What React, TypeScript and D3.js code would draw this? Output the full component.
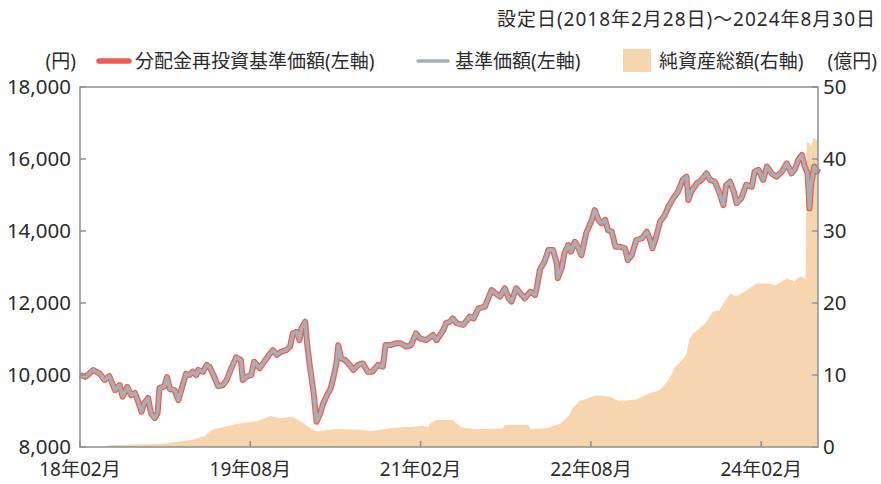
import * as d3 from "d3";
import React, { RefObject, useEffect, useRef } from "react";

// months elapsed since launch (2018-02-28) and NAV in yen
const navMonths = [
  0, 0.6, 1.4, 2.1, 2.6, 3.1, 3.7, 4.2, 4.5, 5.0, 5.4, 5.8, 6.1, 6.5, 6.8, 7.2, 7.5, 7.9, 8.2, 8.4,
  8.9, 9.2, 9.5, 10.0, 10.4, 10.7, 11.2, 11.6, 11.9, 12.3, 12.5, 13.0, 13.4, 13.7, 14.1, 14.6, 15.1,
  15.5, 16.0, 16.5, 17.0, 17.2, 17.6, 18.1, 18.4, 19.0, 19.6, 20.1, 20.4, 20.8, 21.3, 21.8, 22.2,
  22.5, 22.9, 23.2, 23.4, 23.8, 24.0, 24.3, 24.7, 25.0, 25.4, 25.7, 26.1, 26.5, 26.8, 27.1, 27.3,
  27.6, 28.0, 28.5, 28.9, 29.4, 29.9, 30.4, 30.9, 31.5, 32.0, 32.3, 32.8, 33.4, 33.9, 34.5, 35.0,
  35.5, 35.9, 36.6, 37.3, 37.7, 38.4, 38.7, 39.1, 39.4, 39.8, 40.5, 41.2, 41.6, 42.1, 42.8, 43.5,
  43.9, 44.4, 44.9, 45.3, 45.6, 46.1, 46.7, 47.0, 47.6, 48.1, 48.3, 48.6, 49.1, 49.5, 50.0, 50.4,
  50.5, 50.9, 51.2, 51.6, 51.9, 52.3, 52.7, 53.0, 53.5, 54.1, 54.4, 54.8, 55.1, 55.5, 55.8, 56.2,
  56.6, 57.1, 57.6, 57.9, 58.3, 58.8, 59.4, 59.9, 60.2, 60.5, 60.9, 61.3, 61.8, 62.2, 62.7, 63.2,
  63.7, 64.1, 64.3, 64.6, 65.2, 65.7, 66.2, 66.6, 67.1, 67.6, 68.0, 68.3, 68.7, 69.1, 69.4, 69.9,
  70.4, 71.0, 71.3, 71.7, 72.2, 72.6, 73.1, 73.6, 74.2, 74.7, 75.2, 75.6, 75.9, 76.3, 76.6, 76.9,
  77.1, 77.3, 77.6, 77.9, 78.0,
];
const navValues = [
  10000, 9950, 10140, 10030, 9860, 9970, 9580, 9720, 9400, 9670, 9440, 9500, 9300, 8980, 9220, 9360,
  8940, 8800, 8940, 9640, 9680, 9940, 9610, 9580, 9300, 9580, 10030, 10000, 10090, 10000, 10140,
  10090, 10280, 10230, 10000, 9690, 9720, 9860, 10190, 10490, 10420, 9860, 9950, 10000, 10370, 10190,
  10420, 10600, 10690, 10560, 10650, 10690, 10790, 11160, 11200, 10970, 11300, 11480, 10880, 10230,
  9490, 8700, 8940, 9210, 9440, 9630, 9950, 10320, 10830, 10460, 10420, 10280, 10140, 10280, 10320,
  10090, 10090, 10280, 10230, 10830, 10830, 10880, 10880, 10790, 10830, 11160, 11020, 10970, 11110,
  10970, 11250, 11440, 11480, 11570, 11440, 11390, 11620, 11570, 11850, 11900, 12360, 12270, 12180,
  12410, 12130, 12040, 12410, 12220, 12130, 12310, 12220, 12450, 12920, 13150, 13470, 13470, 13100,
  12690, 12960, 13380, 13610, 13430, 13700, 13520, 13330, 13940, 14310, 14580, 14310, 14210, 14310,
  14030, 13980, 13560, 13560, 13520, 13190, 13330, 13750, 13800, 13980, 13800, 13520, 13840, 14260,
  14440, 14680, 14910, 15090, 15420, 15510, 14860, 15090, 15330, 15420, 15600, 15420, 15370, 15050,
  14720, 15280, 15370, 15090, 14770, 14910, 15280, 15230, 15650, 15700, 15420, 15790, 15600, 15510,
  15650, 15880, 15600, 15740, 15970, 16110, 15790, 15600, 14630, 15330, 15790, 15650, 15740,
];

// net assets (億円)
const assetMonths = [
  0, 2.9, 3.0, 9.0, 11.8, 13.2, 13.6, 14.0, 15.6, 17.4, 18.8, 20.1, 21.2, 22.5, 23.6, 24.9, 27.1,
  29.6, 30.7, 32.8, 36.2, 36.8, 37.0, 37.7, 39.4, 40.3, 41.9, 44.7, 44.9, 47.4, 47.6, 49.3, 50.7,
  51.6, 52.1, 52.8, 54.6, 56.0, 56.9, 58.8, 60.2, 61.3, 62.2, 62.9, 63.8, 64.1, 64.4, 64.8, 65.3,
  66.2, 66.9, 67.6, 68.0, 68.7, 69.4, 70.5, 71.5, 72.6, 73.6, 74.7, 75.5, 76.1, 76.7, 76.8, 77.1,
  77.3, 77.5, 78.0,
];
const assetValues = [
  0, 0, 0.25, 0.5, 1.0, 1.5, 2.0, 2.4, 2.9, 3.4, 3.6, 4.3, 4.0, 4.2, 3.3, 2.2, 2.5, 2.4, 2.2, 2.6,
  2.9, 2.8, 3.3, 3.75, 3.75, 2.7, 2.45, 2.6, 3.05, 3.05, 2.45, 2.6, 3.2, 4.2, 5.4, 6.4, 7.2, 7.0,
  6.4, 6.6, 7.45, 7.9, 9.3, 11.1, 12.3, 13.0, 14.9, 15.8, 16.25, 17.4, 18.8, 19.0, 20.0, 21.3, 20.9,
  21.8, 22.7, 22.7, 22.5, 23.4, 23.0, 23.7, 23.4, 42.4, 42.2, 41.7, 42.9, 42.6,
];

const xTickMonths = [0, 18, 36, 54, 72];
const xTickLabels = ["18年02月", "19年08月", "21年02月", "22年08月", "24年02月"];
const leftTicks = [8000, 10000, 12000, 14000, 16000, 18000];
const rightTicks = [0, 10, 20, 30, 40, 50];

const W = 881;
const H = 484;
const FONT = "'Noto Sans', 'Noto Sans CJK JP', sans-serif";
const RED = "#ef5b4c";
const GRAY = "#a9aeb3";
const PEACH = "#f7d5ae";
const AXIS = "#8c9094";
const TEXT = "#2b2b2b";

const App = () => {
  const d3Ref: RefObject<HTMLDivElement> = useRef(null);

  useEffect(() => {
    const root = d3.select(d3Ref.current);
    root.selectAll("*").remove();
    const svg = root
      .append("svg")
      .attr("width", W)
      .attr("height", H)
      .style("position", "absolute")
      .style("left", 0)
      .style("top", 0)
      .style("font-family", FONT);

    const left = 80, right = 818, top = 87, bottom = 447;
    const x = d3.scaleLinear().domain([0, 78]).range([left, right]);
    const yL = d3.scaleLinear().domain([8000, 18000]).range([bottom, top]);
    const yR = d3.scaleLinear().domain([0, 50]).range([bottom, top]);

    // net assets area
    const area = d3
      .area<number>()
      .x((d, i) => x(assetMonths[i]))
      .y0(bottom)
      .y1((d) => yR(d));
    svg.append("path").attr("d", area(assetValues) as string).attr("fill", PEACH);

    const line = d3
      .line<number>()
      .x((d, i) => x(navMonths[i]))
      .y((d) => yL(d))
      .curve(d3.curveLinear);
    svg.append("path")
      .attr("d", line(navValues) as string)
      .attr("fill", "none")
      .attr("stroke", RED)
      .attr("stroke-width", 6)
      .attr("stroke-linejoin", "round");
    svg.append("path")
      .attr("d", line(navValues) as string)
      .attr("fill", "none")
      .attr("stroke", GRAY)
      .attr("stroke-width", 3.6)
      .attr("stroke-linejoin", "round");

    // frame
    svg.append("rect")
      .attr("x", left)
      .attr("y", top)
      .attr("width", right - left)
      .attr("height", bottom - top)
      .attr("fill", "none")
      .attr("stroke", AXIS)
      .attr("stroke-width", 1.5);

    // left axis
    const gl = svg.append("g");
    leftTicks.forEach((t) => {
      gl.append("line").attr("x1", left).attr("x2", left + 6).attr("y1", yL(t)).attr("y2", yL(t))
        .attr("stroke", AXIS).attr("stroke-width", 1.5);
      gl.append("text").attr("x", 71).attr("y", yL(t)).attr("dy", "0.36em")
        .attr("text-anchor", "end").attr("font-size", 20.5).attr("fill", TEXT)
        .text(d3.format(",")(t));
    });

    // right axis
    const gr = svg.append("g");
    rightTicks.forEach((t) => {
      gr.append("line").attr("x1", right - 6).attr("x2", right).attr("y1", yR(t)).attr("y2", yR(t))
        .attr("stroke", AXIS).attr("stroke-width", 1.5);
      gr.append("text").attr("x", 823).attr("y", yR(t)).attr("dy", "0.36em")
        .attr("text-anchor", "start").attr("font-size", 20.5).attr("fill", TEXT)
        .text(String(t));
    });

    // bottom axis
    const gb = svg.append("g");
    xTickMonths.forEach((m, i) => {
      gb.append("line").attr("x1", x(m)).attr("x2", x(m)).attr("y1", bottom - 6).attr("y2", bottom)
        .attr("stroke", AXIS).attr("stroke-width", 1.5);
      gb.append("text").attr("x", x(m)).attr("y", 476)
        .attr("text-anchor", "middle").attr("font-size", 19).attr("fill", TEXT)
        .text(xTickLabels[i]);
    });

    // title
    svg.append("text").attr("x", 497).attr("y", 26)
      .attr("font-size", 19).attr("fill", TEXT)
      .attr("textLength", 378).attr("lengthAdjust", "spacing")
      .text("設定日(2018年2月28日)～2024年8月30日");

    // legend row
    const ly = 61;
    const legendText = (x0: number, s: string, anchor = "start") =>
      svg.append("text").attr("x", x0).attr("y", ly).attr("dy", "0.36em")
        .attr("text-anchor", anchor)
        .attr("font-size", 19).attr("fill", TEXT)
        .text(s);
    legendText(76, "(円)", "end");
    svg.append("line").attr("x1", 99).attr("x2", 129).attr("y1", ly).attr("y2", ly)
      .attr("stroke", RED).attr("stroke-width", 5.5).attr("stroke-linecap", "round");
    legendText(135, "分配金再投資基準価額(左軸)");
    svg.append("line").attr("x1", 418).attr("x2", 448).attr("y1", ly).attr("y2", ly)
      .attr("stroke", GRAY).attr("stroke-width", 3.5).attr("stroke-linecap", "round");
    legendText(455, "基準価額(左軸)");
    svg.append("rect").attr("x", 623).attr("y", ly - 12).attr("width", 28).attr("height", 23)
      .attr("fill", PEACH);
    legendText(659, "純資産総額(右軸)");
    legendText(877, "(億円)", "end");
  }, [d3Ref]);

  return <div ref={d3Ref} />;
};

export default App;
